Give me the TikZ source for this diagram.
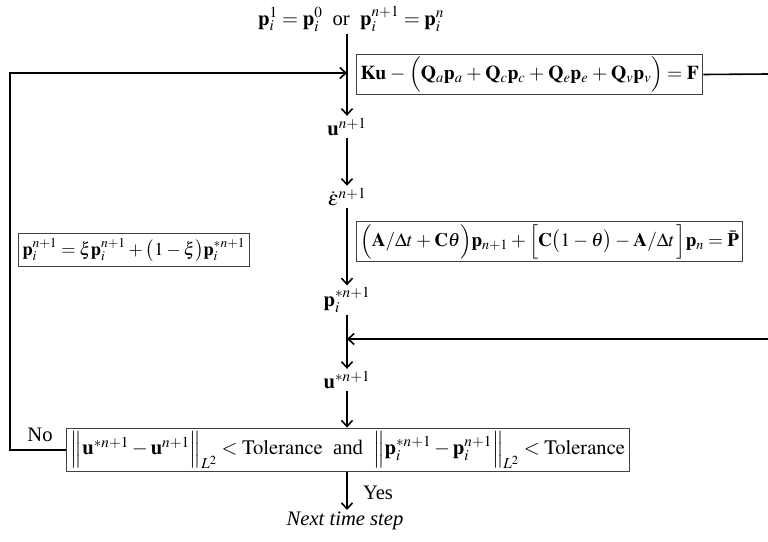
\documentclass[tikz,border=0pt]{standalone}
\usepackage{mathptmx}
\usepackage{fontspec}
\setmainfont{Liberation Serif}
\usetikzlibrary{arrows.meta,calc}
\begin{document}
\begin{tikzpicture}[x=1pt,y=-1pt,
  every node/.style={font=\fontsize{20.6}{24}\selectfont, inner sep=2pt},
  eqbox/.style={draw=black!75, line width=1pt, inner xsep=4pt, inner ysep=3pt},
  flow/.style={line width=1.6pt, -{Straight Barb[length=6pt,width=11pt,line width=1.6pt]}},
  plain/.style={line width=1.6pt}]
\useasboundingbox (0,0) rectangle (768,541);
% main column
\node (top) at (351,19) {$\mathbf{p}_i^1=\mathbf{p}_i^0$\ \ or \ $\mathbf{p}_i^{n+1}=\mathbf{p}_i^n$};
\node[eqbox, anchor=west, font=\fontsize{19.6}{24}\selectfont, inner ysep=2.5pt] (eq1) at (356,74.5) {\medmuskip=3.5mu$\mathbf{Ku}-\Big(\mathbf{Q}_a\mathbf{p}_a+\mathbf{Q}_c\mathbf{p}_c+\mathbf{Q}_e\mathbf{p}_e+\mathbf{Q}_v\mathbf{p}_v\Big)=\mathbf{F}$};
\node (u) at (347,127) {$\mathbf{u}^{n+1}$};
\node (eps) at (347,197) {$\dot{\varepsilon}^{n+1}$};
\node[eqbox, anchor=west, font=\fontsize{19.1}{23}\selectfont] (eq2) at (356,241.5) {\medmuskip=3mu\thickmuskip=4mu$\Big(\mathbf{A}/\Delta t+\mathbf{C}\theta\Big)\mathbf{p}_{n+1}+\Big[\mathbf{C}\big(1-\theta\big)-\mathbf{A}/\Delta t\,\Big]\mathbf{p}_n=\bar{\mathbf{P}}$};
\node (ps) at (347,300) {$\mathbf{p}_i^{*n+1}$};
\node (us) at (347,380) {$\mathbf{u}^{*n+1}$};
\node[eqbox] (dec) at (348,450) {$\Big\|\mathbf{u}^{*n+1}-\mathbf{u}^{n+1}\Big\|_{L^2}<\mathrm{Tolerance}$\ \ and \ $\Big\|\mathbf{p}_i^{*n+1}-\mathbf{p}_i^{n+1}\Big\|_{L^2}<\mathrm{Tolerance}$};
\node[eqbox, anchor=west, font=\fontsize{18.3}{22}\selectfont, inner ysep=5pt] (relax) at (18,250) {\medmuskip=3mu\thickmuskip=4mu$\mathbf{p}_i^{n+1}=\xi\mathbf{p}_i^{n+1}+\big(1-\xi\big)\mathbf{p}_i^{*n+1}$};
\node (no) at (40,435) {No};
\node (yes) at (378,493) {Yes};
\node (next) at (345,521) {\itshape Next time step};
% coordinates
\coordinate (Ltop) at (10,73);
\coordinate (J1) at (347,73);
\coordinate (Rtop) at (768,74);
\coordinate (Rin) at (768,339);
\coordinate (J2) at (347,339);
\coordinate (Ybot) at (347,510);
% connectors
\draw[flow] (top.south -| u) -- (u.north);
\draw[flow] (dec.west) -| (Ltop) -- (J1);
\draw[plain] (eq1.east) -- (Rtop);
\draw[flow] (u.south) -- (eps.north);
\draw[flow] (eps.south) -- (ps.north);
\draw[flow] (ps.south) -- (us.north);
\draw[flow] (Rin) -- (J2);
\draw[flow] (us.south) -- (us.south |- dec.north);
\draw[flow] (dec.south -| Ybot) -- (Ybot);
\end{tikzpicture}
\end{document}
